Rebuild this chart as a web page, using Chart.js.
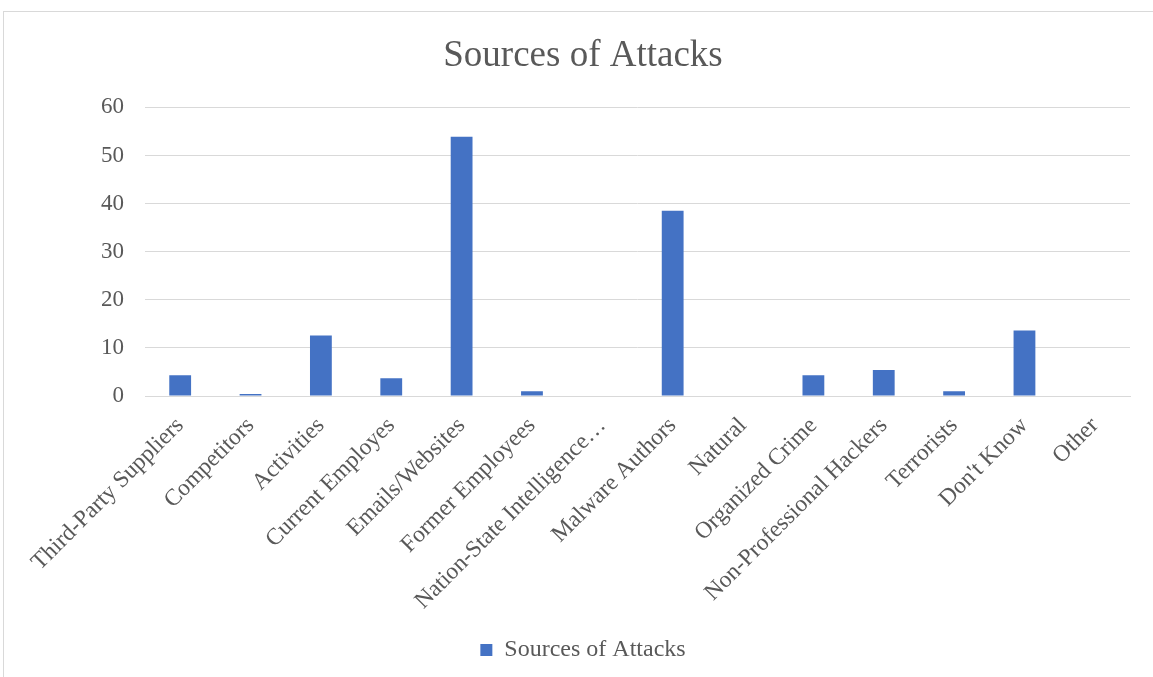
<!DOCTYPE html>
<html>
<head>
<meta charset="utf-8">
<script src="https://cdn.jsdelivr.net/npm/chart.js@4.4.1/dist/chart.umd.min.js"></script>
<style>
  html, body { margin: 0; padding: 0; background: #fff; overflow: hidden; }
  #frame {
    position: absolute; left: 3px; top: 11px;
    width: 1160px; height: 680px;
    border: 1px solid #d9d9d9; box-sizing: border-box;
  }
  #wrap { position: absolute; left: -4px; top: -12px; width: 1153px; height: 677px; }
</style>
</head>
<body>
<div id="frame"><div id="wrap"><canvas id="attacks"></canvas></div></div>
<script>
const categories = [
  'Third-Party Suppliers', 'Competitors', 'Activities', 'Current Employes',
  'Emails/Websites', 'Former Employees', 'Nation-State Intelligence\u2026',
  'Malware Authors', 'Natural', 'Organized Crime', 'Non-Professional Hackers',
  'Terrorists', "Don't Know", 'Other'
];
const attackCounts = [4.3, 0.4, 12.6, 3.7, 53.9, 1.0, 0, 38.5, 0, 4.3, 5.4, 1.0, 13.6, 0];
const yTicks = [0, 10, 20, 30, 40, 50, 60];

const textGray = '#595959';
const serif = '"Liberation Serif", "Times New Roman", serif';

const ctx = document.getElementById('attacks').getContext('2d');
new Chart(ctx, {
  type: 'bar',
  data: {
    labels: categories,
    datasets: [{
      label: 'Sources of Attacks',
      data: attackCounts,
      backgroundColor: '#4472c4',
      borderWidth: 0,
      categoryPercentage: 1,
      barPercentage: 0.31
    }]
  },
  options: {
    responsive: true,
    maintainAspectRatio: false,
    animation: false,
    layout: { padding: { left: 36, right: 23, top: 14, bottom: 5 } },
    plugins: {
      title: {
        display: true,
        text: 'Sources of Attacks',
        color: textGray,
        font: { family: serif, size: 37, weight: 'normal' },
        padding: { top: 20, bottom: 29 }
      },
      legend: {
        position: 'bottom',
        labels: {
          color: textGray,
          font: { family: serif, size: 24 },
          boxWidth: 12,
          boxHeight: 12,
          padding: 10
        }
      },
      tooltip: { enabled: false }
    },
    scales: {
      x: {
        grid: { display: false },
        border: { color: '#d9d9d9' },
        // fixed height for the rotated category labels
        afterFit: scale => { scale.height = 232; },
        ticks: {
          color: textGray,
          font: { family: serif, size: 23.5 },
          minRotation: 45,
          maxRotation: 45,
          autoSkip: false,
          padding: 8
        }
      },
      y: {
        min: 0,
        max: 60,
        afterBuildTicks: axis => { axis.ticks = yTicks.map(v => ({ value: v })); },
        afterFit: scale => { scale.width = 109; },
        grid: { color: '#d9d9d9', lineWidth: 1, drawTicks: false },
        border: { display: false },
        ticks: {
          color: textGray,
          font: { family: serif, size: 23 },
          padding: 21
        }
      }
    }
  }
});
</script>
</body>
</html>
